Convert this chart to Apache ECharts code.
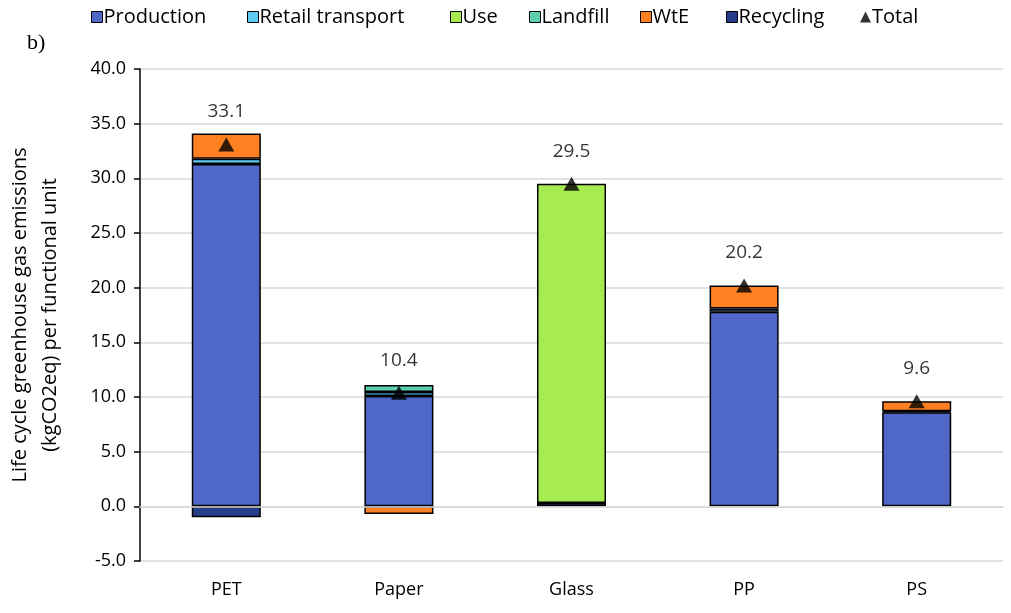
<!DOCTYPE html>
<html>
<head>
<meta charset="utf-8">
<script src="https://cdn.jsdelivr.net/npm/echarts@6/dist/echarts.min.js"></script>
<style>html,body{margin:0;padding:0;background:#fff;}#c{width:1011px;height:613px;}</style>
</head>
<body>
<div id="c"></div>
<script>
const categories = ['PET', 'Paper', 'Glass', 'PP', 'PS'];
const production = [31.3, 10.1, 0.3, 17.8, 8.6];
const retailTransport = [0.5, 0.35, null, 0.3, 0.1];
const use = [null, null, 29.2, null, null];
const landfill = [null, 0.65, null, null, null];
const wte = [2.3, -0.7, null, 2.1, 0.9];
const recycling = [-1.0, null, null, null, null];
const total = [33.1, 10.4, 29.5, 20.2, 9.6];
const legendNames = ['Production', 'Retail transport', 'Use', 'Landfill', 'WtE', 'Recycling', 'Total'];
const yTicks = { min: -5, max: 40, interval: 5 };

const FONT = 'Open Sans';
const legendLeft = [86, 242, 445, 524, 635, 721, 855];
const chart = echarts.init(document.getElementById('c'), null, { renderer: 'canvas' });
const border = { borderColor: '#000', borderWidth: 1.5 };
function barSeries(name, data, color) {
  return {
    name, type: 'bar', stack: 'a', data, barWidth: '40%',
    itemStyle: Object.assign({ color }, border), z: 2
  };
}
const legends = legendNames.map((n, i) => ({
  top: 2, left: legendLeft[i], itemGap: 0, itemWidth: 11, itemHeight: 11,
  textStyle: { fontSize: 20, color: '#000', padding: [0, 0, 0, -4] },
  data: [n === 'Total'
    ? { name: n, icon: 'triangle', itemStyle: { color: '#000' } }
    : { name: n, icon: 'rect', itemStyle: { borderColor: '#000', borderWidth: 1 } }]
}));
chart.setOption({
  animation: false,
  textStyle: { fontFamily: FONT },
  title: {
    text: 'b)', left: 22, top: 27,
    textStyle: { fontFamily: 'Liberation Serif', fontSize: 22, fontWeight: 'normal', color: '#000' }
  },
  legend: legends,
  grid: { left: 140, right: 8, top: 69, bottom: 52, containLabel: false, outerBoundsMode: 'none' },
  xAxis: [
    {
      type: 'category', data: categories, position: 'bottom',
      axisLine: { show: false, onZero: false }, axisTick: { show: false },
      axisLabel: { fontSize: 18, color: '#000', margin: 20 }
    },
    {
      type: 'category', data: categories, position: 'bottom', z: 10,
      axisLine: { show: true, onZero: true, lineStyle: { color: '#d9d9d9', width: 1.5 } },
      axisTick: { show: false }, axisLabel: { show: false }
    }
  ],
  yAxis: {
    type: 'value', min: yTicks.min, max: yTicks.max, interval: yTicks.interval,
    name: 'Life cycle greenhouse gas emissions\n(kgCO2eq) per functional unit',
    nameLocation: 'middle', nameRotate: 90, nameGap: 75,
    nameTextStyle: { fontSize: 20, color: '#000', lineHeight: 30 },
    axisLine: { show: true, lineStyle: { color: '#000', width: 1.5 } },
    axisTick: { show: true, length: 6, lineStyle: { color: '#000', width: 1.5 } },
    axisLabel: { fontSize: 18, color: '#000', margin: 14, formatter: v => v.toFixed(1) },
    splitLine: { show: true, lineStyle: { color: '#d9d9d9', width: 1.5 } }
  },
  series: [
    barSeries('Production', production, '#4e67c8'),
    barSeries('Retail transport', retailTransport, '#5ecbf3'),
    barSeries('Use', use, '#a7ea52'),
    barSeries('Landfill', landfill, '#5dceaf'),
    barSeries('WtE', wte, '#ff8021'),
    barSeries('Recycling', recycling, '#263e8a'),
    {
      name: 'Total', type: 'scatter', data: total, symbol: 'triangle', symbolSize: [16, 14],
      itemStyle: { color: '#000' }, z: 5,
      label: { show: true, position: 'top', distance: 16, fontSize: 19, color: '#000',
        formatter: p => p.value.toFixed(1) }
    }
  ]
});
</script>
</body>
</html>
